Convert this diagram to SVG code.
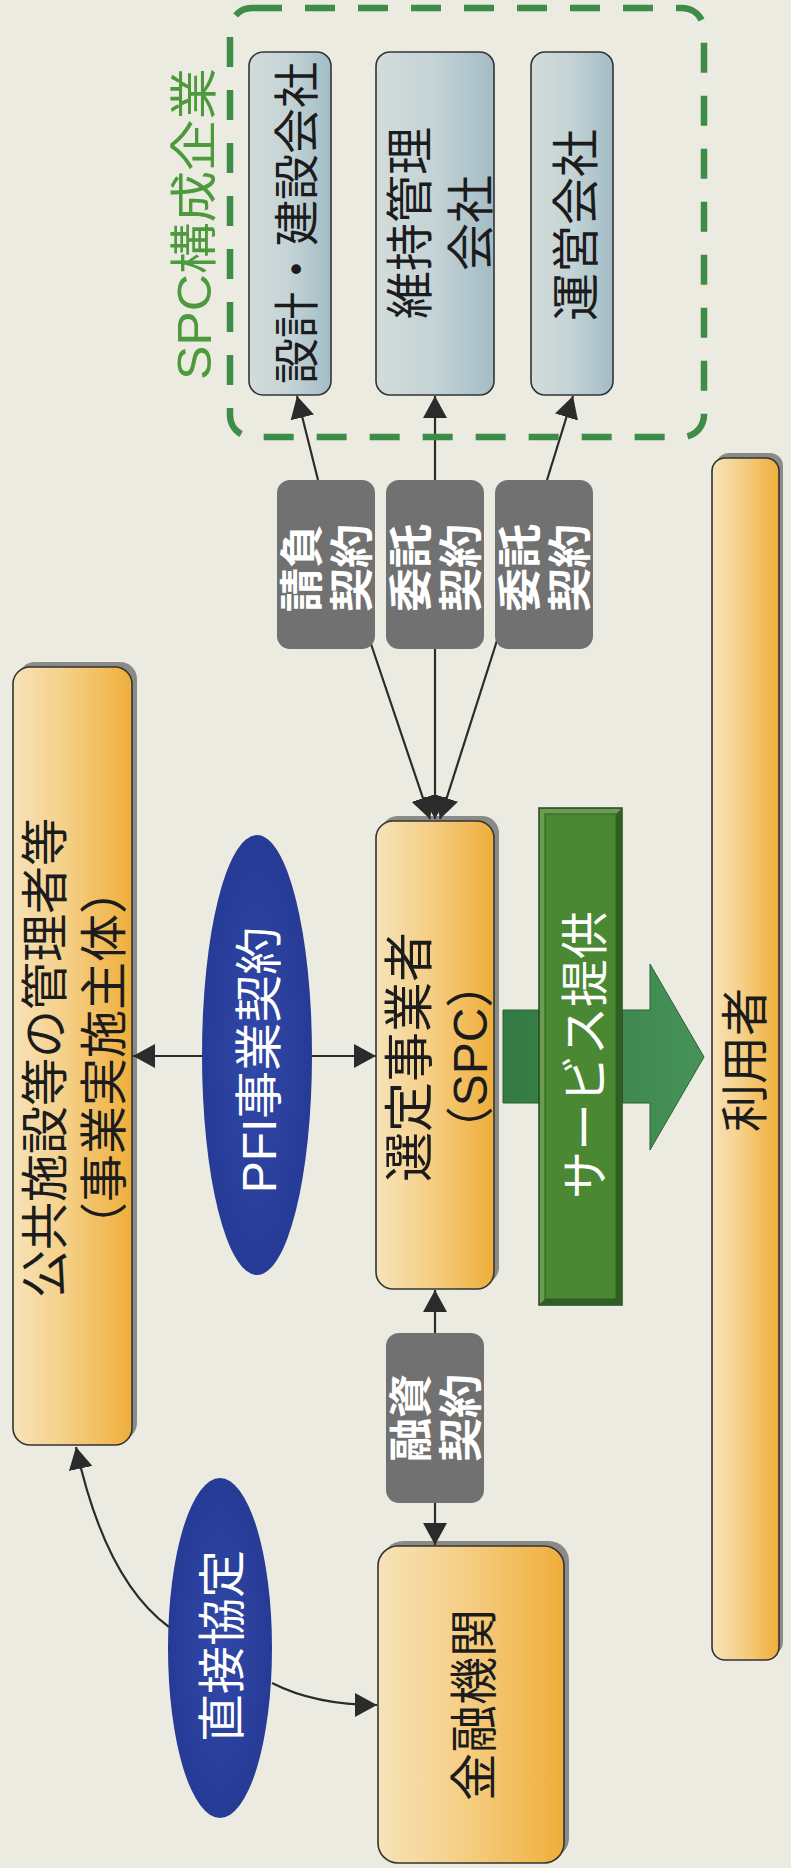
<svg xmlns="http://www.w3.org/2000/svg" width="791" height="1868" viewBox="0 0 791 1868">
<defs>
<linearGradient id="org" x1="0" y1="0" x2="1" y2="0">
<stop offset="0" stop-color="#f6e3b9"/><stop offset="0.45" stop-color="#f5cf86"/><stop offset="1" stop-color="#efae3a"/>
</linearGradient>
<linearGradient id="blu" x1="0" y1="0" x2="1" y2="0">
<stop offset="0" stop-color="#d3dcdb"/><stop offset="0.5" stop-color="#c4d3d6"/><stop offset="1" stop-color="#a3bcc6"/>
</linearGradient>
<linearGradient id="grn" x1="0" y1="0" x2="1" y2="0">
<stop offset="0" stop-color="#347a42"/><stop offset="1" stop-color="#47935a"/>
</linearGradient>
<radialGradient id="ell" cx="0.5" cy="0.5" r="0.5">
<stop offset="0" stop-color="#3248a8"/><stop offset="1" stop-color="#263b96"/>
</radialGradient>
<marker id="ah" viewBox="0 0 22 24" refX="22" refY="12" markerWidth="22" markerHeight="24" markerUnits="userSpaceOnUse" orient="auto-start-reverse">
<path d="M0,0 L22,12 L0,24 Z" fill="#2b2b2b"/>
</marker>
<style>
.box{stroke:#333;stroke-width:1.6}
.org{fill:url(#org)}
.blu{fill:url(#blu)}
.shd{fill:#8a8a86}
.gry{fill:#717171}
.ln{fill:none;stroke:#2b2b2b;stroke-width:2.2}
.t{font-family:'Liberation Sans','Noto Sans CJK JP',sans-serif;text-anchor:middle;dominant-baseline:central}
.k{fill:#1c1c1c;font-size:48px}
.w{fill:#ffffff;font-size:48px}
.wb{fill:#ffffff;font-size:44px;font-weight:bold}
</style>
</defs>
<rect width="791" height="1868" fill="#ecebe1"/>

<g id="shadows">
<rect class="shd" x="18" y="662" width="119" height="778" rx="17"/>
<rect class="shd" x="381" y="816" width="118" height="468" rx="17"/>
<rect class="shd" x="716" y="453" width="67" height="1202" rx="13"/>
<rect class="shd" x="383" y="1541" width="186" height="317" rx="20"/>
</g>

<g id="connectors">
<path class="ln" d="M318,480 L297,396" marker-end="url(#ah)"/>
<path class="ln" d="M435,480 L435,396" marker-end="url(#ah)"/>
<path class="ln" d="M547,480 L573,396" marker-end="url(#ah)"/>
<path class="ln" d="M318,480 L373,650"/>
<path class="ln" d="M435,480 L435,650"/>
<path class="ln" d="M547,480 L494,650"/>
<path class="ln" d="M373,650 L430,819" marker-end="url(#ah)"/>
<path class="ln" d="M435,650 L435,819" marker-end="url(#ah)"/>
<path class="ln" d="M494,650 L440,819" marker-end="url(#ah)"/>
<path class="ln" d="M133,1056 L376,1056" marker-start="url(#ah)" marker-end="url(#ah)"/>
<path class="ln" d="M435,1333 L435,1290" marker-end="url(#ah)"/>
<path class="ln" d="M435,1503 L435,1545" marker-end="url(#ah)"/>
<path class="ln" d="M169,1627 Q105,1580 76,1447" marker-end="url(#ah)"/>
<path class="ln" d="M272,1683 Q315,1705 377,1705" marker-end="url(#ah)"/>
</g>

<g id="spc-group">
<rect x="230" y="8" width="474" height="429" rx="22" fill="none" stroke="#3d8c47" stroke-width="6.5" stroke-dasharray="30 23"/>
<text class="t" transform="translate(194,224) rotate(-90)" font-size="48" fill="#4c9a3c" textLength="312" lengthAdjust="spacingAndGlyphs">SPC構成企業</text>
</g>

<g id="design-build">
<rect class="box blu" x="249" y="52" width="82" height="343" rx="14"/>
<text class="t k" transform="translate(297,223) rotate(-90)" style="font-size:46px">設計・建設会社</text>
</g>

<g id="maintenance">
<rect class="box blu" x="376" y="52" width="118" height="343" rx="14"/>
<text class="t k" transform="translate(410,223) rotate(-90)">維持管理</text>
<text class="t k" transform="translate(471,223) rotate(-90)">会社</text>
</g>

<g id="operation">
<rect class="box blu" x="531" y="52" width="82" height="343" rx="14"/>
<text class="t k" transform="translate(576,225) rotate(-90)">運営会社</text>
</g>

<g id="contract-ukeoi">
<rect class="gry" x="277" y="480" width="98" height="169" rx="13"/>
<text class="t wb" transform="translate(302,568) rotate(-90)">請負</text>
<text class="t wb" transform="translate(352,568) rotate(-90)">契約</text>
</g>

<g id="contract-itaku1">
<rect class="gry" x="386" y="480" width="98" height="169" rx="13"/>
<text class="t wb" transform="translate(411,568) rotate(-90)">委託</text>
<text class="t wb" transform="translate(461,568) rotate(-90)">契約</text>
</g>

<g id="contract-itaku2">
<rect class="gry" x="495" y="480" width="98" height="169" rx="13"/>
<text class="t wb" transform="translate(520,568) rotate(-90)">委託</text>
<text class="t wb" transform="translate(570,568) rotate(-90)">契約</text>
</g>

<g id="public-manager">
<rect class="box org" x="13" y="667" width="119" height="778" rx="17"/>
<text class="t k" transform="translate(45,1058) rotate(-90)">公共施設等の管理者等</text>
<text class="t k" transform="translate(104,1058) rotate(-90)">（事業実施主体）</text>
</g>

<g id="pfi-contract">
<ellipse cx="257" cy="1055" rx="55" ry="220" fill="url(#ell)"/>
<text class="t w" transform="translate(259,1060) rotate(-90)">PFI事業契約</text>
</g>

<g id="spc">
<rect class="box org" x="376" y="821" width="118" height="468" rx="17"/>
<text class="t k" transform="translate(410,1057) rotate(-90)" style="font-size:50px">選定事業者</text>
<text class="t k" transform="translate(470,1057) rotate(-90)">（SPC）</text>
</g>

<g id="service">
<polygon points="503,1010 650,1010 650,964 704,1057 650,1150 650,1103 503,1103" fill="url(#grn)" stroke="#2c6035" stroke-width="1"/>
<rect x="539" y="808" width="83" height="497" fill="#6a9c52" stroke="#25461b" stroke-width="1.5"/>
<polygon points="622,808 622,1305 539,1305 545,1299 616,1299 616,814" fill="#2f5f22"/>
<rect x="545" y="814" width="71" height="485" fill="#4b8833" stroke="#2f5a22" stroke-width="1"/>
<text class="t w" transform="translate(585,1055) rotate(-90)">サービス提供</text>
</g>

<g id="users">
<rect class="box org" x="712" y="458" width="67" height="1202" rx="13"/>
<text class="t k" transform="translate(745,1060) rotate(-90)">利用者</text>
</g>

<g id="finance-contract">
<rect class="gry" x="386" y="1333" width="98" height="170" rx="13"/>
<text class="t wb" transform="translate(411,1418) rotate(-90)">融資</text>
<text class="t wb" transform="translate(461,1418) rotate(-90)">契約</text>
</g>

<g id="direct-agreement">
<ellipse cx="220" cy="1648" rx="52" ry="170" fill="url(#ell)"/>
<text class="t w" transform="translate(222,1646) rotate(-90)">直接協定</text>
</g>

<g id="bank">
<rect class="box org" x="378" y="1546" width="186" height="317" rx="20"/>
<text class="t k" transform="translate(474,1705) rotate(-90)">金融機関</text>
</g>
</svg>
